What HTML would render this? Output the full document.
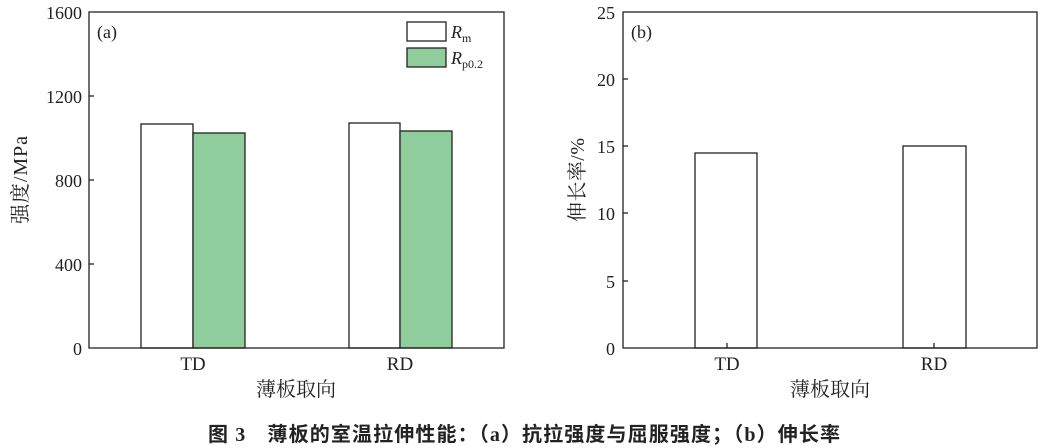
<!DOCTYPE html>
<html><head><meta charset="utf-8"><style>
html,body{margin:0;padding:0;background:#fff;}
svg{display:block;}
text{font-family:"Liberation Serif","Noto Serif CJK SC",serif;fill:#222;}
</style></head><body>
<svg width="1041" height="448" viewBox="0 0 1041 448" xmlns="http://www.w3.org/2000/svg">
<!-- Panel a -->
<g stroke="#222" stroke-width="1.3">
<rect x="141" y="124" width="52" height="224" fill="#fff"/>
<rect x="193" y="133" width="52" height="215" fill="#8fce9c"/>
<rect x="349" y="123" width="51" height="225" fill="#fff"/>
<rect x="400" y="131" width="52" height="217" fill="#8fce9c"/>
<rect x="89" y="12" width="415" height="336" fill="none"/>
<line x1="89" y1="96" x2="94" y2="96"/><line x1="89" y1="180" x2="94" y2="180"/><line x1="89" y1="264" x2="94" y2="264"/>
<rect x="407" y="22" width="39" height="19" fill="#fff"/>
<rect x="407" y="48" width="39" height="19" fill="#8fce9c"/>
</g>
<g font-size="18" text-anchor="end">
<text x="82" y="19">1600</text><text x="82" y="103">1200</text><text x="82" y="187">800</text><text x="82" y="271">400</text><text x="82" y="355">0</text>
</g>
<text x="97" y="38" font-size="18">(a)</text>
<text x="451" y="38" font-size="18" font-style="italic">R<tspan font-size="12" font-style="normal" dy="4">m</tspan></text>
<text x="451" y="64" font-size="18" font-style="italic">R<tspan font-size="12" font-style="normal" dy="4">p0.2</tspan></text>
<g font-size="19" text-anchor="middle">
<text x="193" y="370">TD</text><text x="400" y="370">RD</text>
<text x="296" y="396" font-size="20">薄板取向</text>
<text transform="translate(27,180) rotate(-90)" font-size="20" textLength="88">强度/MPa</text>
</g>
<!-- Panel b -->
<g stroke="#222" stroke-width="1.3">
<rect x="695" y="153" width="62" height="195" fill="#fff"/>
<rect x="903" y="146" width="63" height="202" fill="#fff"/>
<rect x="623" y="12" width="414" height="336" fill="none"/>
<line x1="623" y1="79" x2="628" y2="79"/><line x1="623" y1="146" x2="628" y2="146"/><line x1="623" y1="213" x2="628" y2="213"/><line x1="623" y1="281" x2="628" y2="281"/>
<line x1="727" y1="348" x2="727" y2="343"/><line x1="934" y1="348" x2="934" y2="343"/>
</g>
<g font-size="18" text-anchor="end">
<text x="615" y="19">25</text><text x="615" y="86">20</text><text x="615" y="153">15</text><text x="615" y="220">10</text><text x="615" y="288">5</text><text x="615" y="355">0</text>
</g>
<text x="631" y="38" font-size="18">(b)</text>
<g font-size="19" text-anchor="middle">
<text x="727" y="370">TD</text><text x="934" y="370">RD</text>
<text x="830" y="396" font-size="20">薄板取向</text>
<text transform="translate(584,180) rotate(-90)" font-size="20" textLength="84">伸长率/%</text>
</g>
<text x="208" y="441" font-size="20" font-weight="bold" textLength="632" lengthAdjust="spacing" style='font-family:"Liberation Serif","Noto Sans CJK SC",sans-serif'>图 3　薄板的室温拉伸性能：（a）抗拉强度与屈服强度；（b）伸长率</text>
</svg>
</body></html>
